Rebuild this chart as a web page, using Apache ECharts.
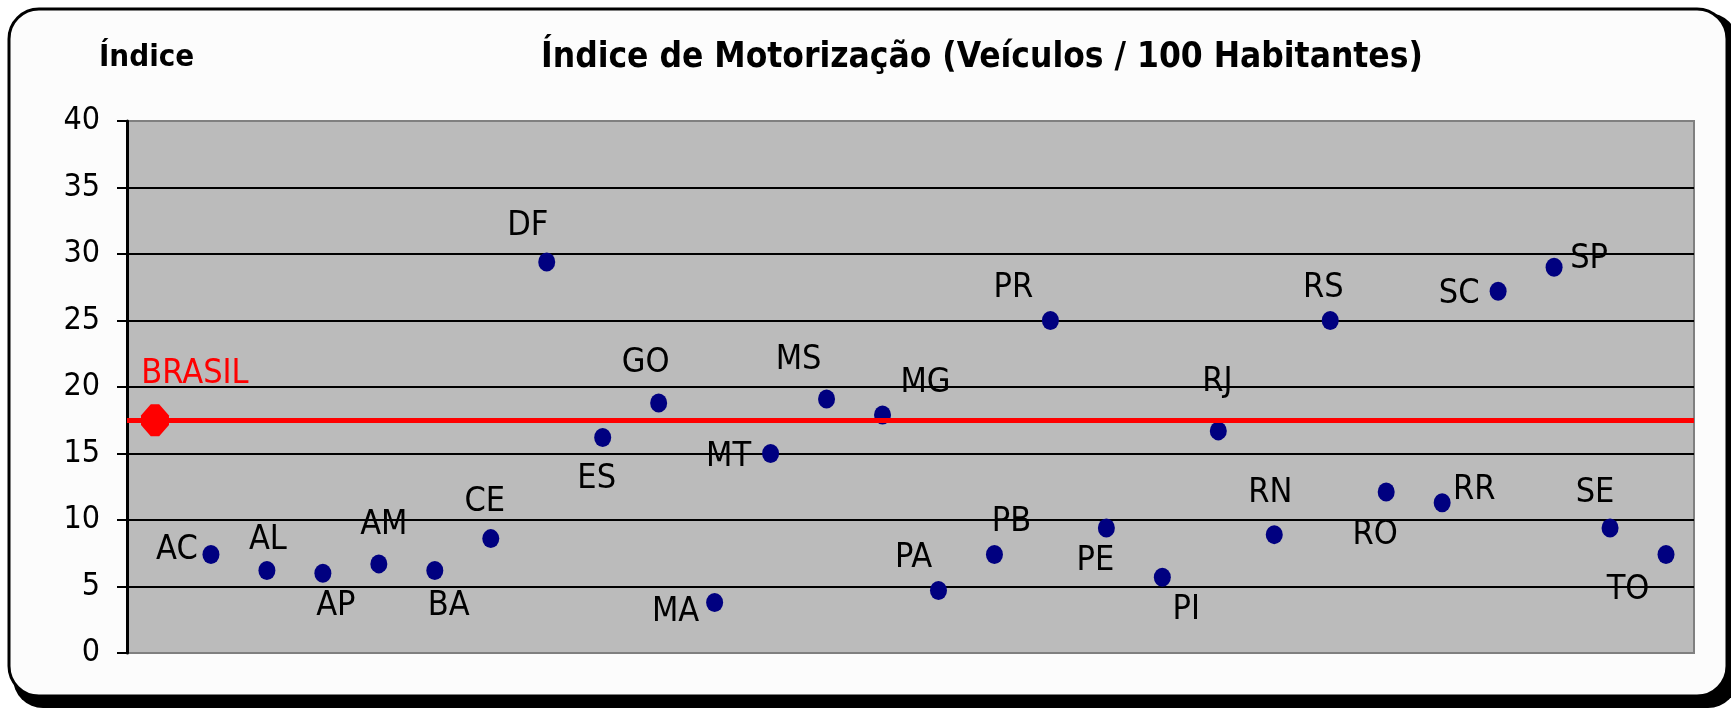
<!DOCTYPE html>
<html>
<head>
<meta charset="utf-8">
<script src="https://cdn.jsdelivr.net/npm/echarts@6/dist/echarts.min.js"></script>
<style>
    html, body { margin: 0; padding: 0; background: #ffffff; }
    #main { width: 1731px; height: 708px; }
</style>
</head>
<body>
<div id="main"></div>
<script>
    // dados
    var categories = ['BRASIL', 'AC', 'AL', 'AP', 'AM', 'BA', 'CE', 'DF', 'ES', 'GO', 'MA', 'MT', 'MS', 'MG',
        'PA', 'PB', 'PR', 'PE', 'PI', 'RJ', 'RN', 'RS', 'RO', 'RR', 'SC', 'SP', 'SE', 'TO'];
    var brasilValue = 17.5;
    var states = ['AC', 'AL', 'AP', 'AM', 'BA', 'CE', 'DF', 'ES', 'GO', 'MA', 'MT', 'MS', 'MG',
        'PA', 'PB', 'PR', 'PE', 'PI', 'RJ', 'RN', 'RS', 'RO', 'RR', 'SC', 'SP', 'SE', 'TO'];
    var stateValues = [7.4, 6.2, 6.0, 6.7, 6.2, 8.6, 29.4, 16.2, 18.8, 3.8, 15.0, 19.1, 17.9,
        4.7, 7.4, 25.0, 9.4, 5.7, 16.7, 8.9, 25.0, 12.1, 11.3, 27.2, 29.0, 9.4, 7.4];
    var yTicks = [0, 5, 10, 15, 20, 25, 30, 35, 40];

    // posição dos rótulos (deslocamento em px a partir do ponto)
    var labelOffsets = [[-34, -4], [1, -30], [13, 33], [5, -39], [14, 36], [-6, -36], [-19, -36], [-6, 42],
        [-13, -40], [-39, 10], [-42, 4], [-28, -39], [43, -32], [-25, -32], [17, -32], [-37, -32],
        [-11, 33], [24, 33], [-1, -49], [-4, -41], [-7, -32], [-11, 43], [32, -13], [-39, 3],
        [35, -8], [-15, -35], [-38, 36]];

    var FONT = '"Liberation Sans Narrow", "DejaVu Sans Condensed", sans-serif';
    var ellipse = 'path://M50,0 A50,50 0 1,1 50,100 A50,50 0 1,1 50,0 Z';
    var octagon = 'path://M35,0 L65,0 L100,35 L100,65 L65,100 L35,100 L0,65 L0,35 Z';

    var stateData = states.map(function (s, i) {
        return {
            value: [s, stateValues[i]],
            label: { offset: labelOffsets[i] }
        };
    });

    var chart = echarts.init(document.getElementById('main'));
    var option = {
        backgroundColor: '#ffffff',
        animation: false,
        graphic: [
            {
                type: 'rect', z: -100,
                shape: { x: 13, y: 13, width: 1725, height: 695, r: 30 },
                style: { fill: '#000000' }
            },
            {
                type: 'rect', z: -99,
                shape: { x: 9, y: 9, width: 1718, height: 687, r: 30 },
                style: { fill: '#fcfcfc', stroke: '#000000', lineWidth: 3 }
            }
        ],
        title: [
            {
                text: 'Índice',
                left: 99, top: 40, padding: 0,
                textStyle: { fontFamily: FONT, fontSize: 31, fontWeight: 'bold', color: '#000', lineHeight: 36 }
            },
            {
                text: 'Índice de Motorização (Veículos / 100 Habitantes)',
                left: 541, top: 39, padding: 0,
                textStyle: { fontFamily: FONT, fontSize: 35, fontWeight: 'bold', color: '#000', lineHeight: 38 }
            }
        ],
        grid: {
            left: 127, right: 37, top: 121, bottom: 55,
            show: true,
            backgroundColor: '#bbbbbb',
            borderColor: '#808080',
            borderWidth: 2
        },
        xAxis: {
            type: 'category',
            data: categories,
            boundaryGap: true,
            axisLine: { show: false },
            axisTick: { show: false },
            axisLabel: { show: false },
            splitLine: { show: false }
        },
        yAxis: {
            type: 'value',
            min: yTicks[0],
            max: yTicks[yTicks.length - 1],
            interval: 5,
            axisLine: { show: true, lineStyle: { color: '#000', width: 3 } },
            axisTick: { show: true, length: 10, lineStyle: { color: '#000', width: 2 } },
            axisLabel: { margin: 27, fontFamily: FONT, fontSize: 32, color: '#000' },
            splitLine: { show: true, showMinLine: false, showMaxLine: false, lineStyle: { color: '#000', width: 2 } }
        },
        series: [
            {
                name: 'BRASIL',
                type: 'scatter',
                symbol: octagon,
                symbolSize: [28, 32],
                itemStyle: { color: '#ff0000', opacity: 1 },
                data: [{ value: ['BRASIL', brasilValue] }],
                label: {
                    show: true,
                    position: 'inside',
                    offset: [40, -46],
                    formatter: 'BRASIL',
                    fontFamily: FONT, fontSize: 34, color: '#ff0000'
                },
                markLine: {
                    silent: true,
                    symbol: 'none',
                    label: { show: false },
                    lineStyle: { color: '#ff0000', width: 5, type: 'solid', opacity: 1 },
                    data: [{ yAxis: brasilValue }]
                },
                z: 3
            },
            {
                name: 'Estados',
                type: 'scatter',
                symbol: ellipse,
                symbolSize: [17, 19],
                itemStyle: { color: '#000080', opacity: 1 },
                data: stateData,
                label: {
                    show: true,
                    position: 'inside',
                    formatter: function (p) { return p.value[0]; },
                    fontFamily: FONT, fontSize: 34, color: '#000'
                },
                z: 4
            }
        ]
    };
    chart.setOption(option);
</script>
</body>
</html>
